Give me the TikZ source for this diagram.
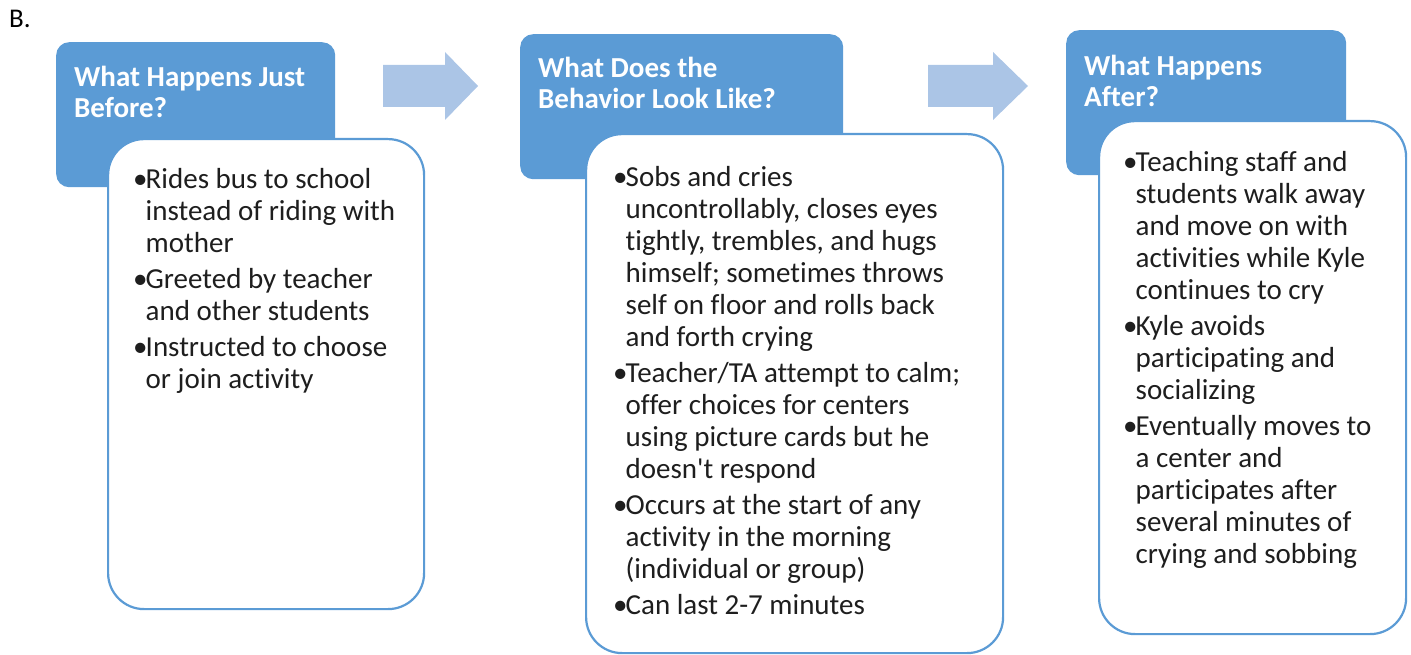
\documentclass[tikz,border=0pt]{standalone}
\usepackage{fontspec}
\setmainfont{Carlito}[Ligatures={NoCommon}]
\definecolor{hdrblue}{HTML}{5B9BD5}
\definecolor{arrblue}{HTML}{ABC5E6}
\definecolor{bodyink}{HTML}{1E1E1E}
\newcommand{\bul}{\strut\makebox[12.5pt][l]{•}}
\newcommand{\cont}{\strut\hspace*{12.5pt}}
\begin{document}
\begin{tikzpicture}[x=1pt,y=-1pt,
  hdr/.style={fill=hdrblue, rounded corners=13pt, draw=none, inner sep=0, anchor=north west},
  body/.style={fill=white, draw=hdrblue, line width=2.2pt, rounded corners=36pt, inner sep=0, anchor=north west},
  hdrtext/.style={anchor=north west, inner sep=0, align=left, text=white, font=\fontsize{29}{31}\selectfont\bfseries},
  bodytext/.style={anchor=north west, inner sep=0, align=left, text=bodyink, font=\fontsize{29}{32}\selectfont},
  blockarrow/.style={fill=arrblue, draw=none}
]
\useasboundingbox (0,0) rectangle (1411,655);

\node[anchor=base west, inner sep=0, font=\fontsize{27}{30}\selectfont] (lbl) at (9,28) {B.};

% headers
\node[hdr, minimum width=279pt, minimum height=145pt] (h1) at (56,42) {};
\node[hdr, minimum width=323pt, minimum height=145pt] (h2) at (520,34) {};
\node[hdr, minimum width=280pt, minimum height=145pt] (h3) at (1066,30) {};

\node[hdrtext] (h1t) at (74,64.3) {\strut What Happens Just\\Before?};
\node[hdrtext] (h2t) at (538,55.3) {\strut What Does the\\Behavior Look Like?};
\node[hdrtext] (h3t) at (1084,53.3) {\strut What Happens\\After?};

% arrows
\fill[blockarrow] (383,65) -- (445,65) -- (445,52) -- (478,86) -- (445,120) -- (445,107) -- (383,107) -- cycle;
\fill[blockarrow] (928,65) -- (993,65) -- (993,52) -- (1028,86) -- (993,120) -- (993,107) -- (928,107) -- cycle;

% bodies
\node[body, minimum width=316pt, minimum height=470pt] (b1) at (107,138) {};
\node[body, minimum width=417pt, minimum height=519pt] (b2) at (585,133) {};
\node[body, minimum width=307pt, minimum height=513pt] (b3) at (1098,120) {};

\node[bodytext] (b1t) at (133,165.6) {%
\bul Rides bus to school\\
\cont instead of riding with\\
\cont mother\\[4pt]
\bul Greeted by teacher\\
\cont and other students\\[4pt]
\bul Instructed to choose\\
\cont or join activity};

\node[bodytext] (b2t) at (613,163.6) {%
\bul Sobs and cries\\
\cont uncontrollably, closes eyes\\
\cont tightly, trembles, and hugs\\
\cont himself; sometimes throws\\
\cont self on floor and rolls back\\
\cont and forth crying\\[4pt]
\bul Teacher/TA attempt to calm;\\
\cont offer choices for centers\\
\cont using picture cards but he\\
\cont doesn\textquotesingle t respond\\[4pt]
\bul Occurs at the start of any\\
\cont activity in the morning\\
\cont (individual or group)\\[4pt]
\bul Can last 2-7 minutes};

\node[bodytext] (b3t) at (1123,148.6) {%
\bul Teaching staff and\\
\cont students walk away\\
\cont and move on with\\
\cont activities while Kyle\\
\cont continues to cry\\[4pt]
\bul Kyle avoids\\
\cont participating and\\
\cont socializing\\[4pt]
\bul Eventually moves to\\
\cont a center and\\
\cont participates after\\
\cont several minutes of\\
\cont crying and sobbing};
\end{tikzpicture}
\end{document}
